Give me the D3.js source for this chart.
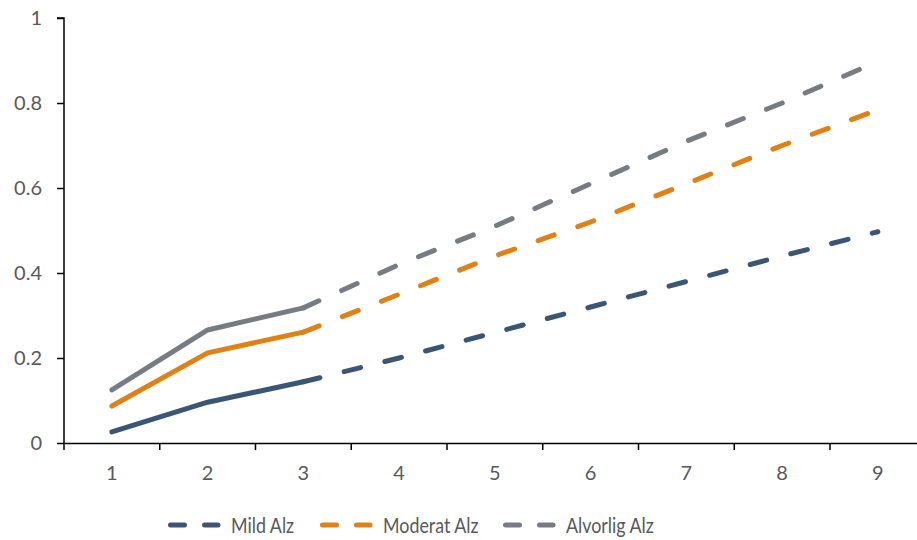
<!DOCTYPE html>
<html><head><meta charset="utf-8">
<script src="https://cdn.jsdelivr.net/npm/d3@7/dist/d3.min.js"></script>
<style>body{margin:0;background:#fff}text{font-family:Lato,"Open Sans",sans-serif}</style>
</head><body><svg id="c" width="917" height="540"></svg>
<script>
const categories = ["1","2","3","4","5","6","7","8","9"];
const seriesNames = ["Mild Alz","Moderat Alz","Alvorlig Alz"];
const mildValues = [0.026,0.096,0.144,0.20,0.26,0.32,0.38,0.44,0.497];
const moderatValues = [0.087,0.212,0.261,0.35,0.44,0.52,0.61,0.70,0.784];
const alvorligValues = [0.125,0.266,0.318,0.42,0.51,0.61,0.71,0.80,0.898];
const yTicks = [0,0.2,0.4,0.6,0.8,1];
const observedCount = 3;
const colors = ["#3B5675","#DF8115","#757C83"];

const svg = d3.select("#c");
const mLeft = 64, mTop = 18, mBottom = 443, step = 95.75;
const x = d3.scaleBand().domain(categories).range([mLeft, mLeft + step*categories.length]).padding(0);
const y = d3.scaleLinear().domain([0,1]).range([mBottom, mTop]);
const cx = c => x(c) + x.bandwidth()/2;

// y axis
const ya = svg.append("g").attr("transform",`translate(${mLeft},0)`)
  .call(d3.axisLeft(y).tickValues(yTicks).tickSize(7).tickPadding(15)
    .tickFormat(d => (d===0||d===1)? String(d) : d.toFixed(1)));
ya.select(".domain").attr("stroke","#000").attr("stroke-width",1.5).attr("d",`M-7,${mTop}H0V${mBottom}`);
ya.selectAll(".tick line").attr("stroke","#000").attr("stroke-width",1.5);
ya.selectAll(".tick text").attr("fill","#595959").style("font-size","20px");

// x axis
const xa = svg.append("g").attr("transform",`translate(0,${mBottom})`)
  .call(d3.axisBottom(x).tickSize(0).tickPadding(23));
xa.select(".domain").attr("stroke","#000").attr("stroke-width",1.5);
xa.selectAll(".tick text").attr("fill","#595959").style("font-size","20px");
xa.selectAll(".btick").data(categories.concat(["end"])).enter().append("line")
  .attr("x1", (d,i) => mLeft + i*x.bandwidth()).attr("x2",(d,i)=> mLeft + i*x.bandwidth())
  .attr("y1",0).attr("y2",7).attr("stroke","#000").attr("stroke-width",1.5);

const allSeries = [mildValues, moderatValues, alvorligValues];
const line = d3.line().x(d => cx(d.c)).y(d => y(d.v));
allSeries.forEach((vals, si) => {
  const pts = vals.map((v,i) => ({c: categories[i], v}));
  svg.append("path").datum(pts.slice(0, observedCount))
    .attr("d", line).attr("fill","none").attr("stroke", colors[si])
    .attr("stroke-width",5).attr("stroke-linecap","round").attr("stroke-linejoin","round");
  svg.append("path").datum(pts.slice(observedCount-1))
    .attr("d", line).attr("fill","none").attr("stroke", colors[si])
    .attr("stroke-width",5).attr("stroke-linecap","round").attr("stroke-dasharray","17,25");
});

// legend
const legendX = [168, 320, 503];
const lg = svg.append("g");
seriesNames.forEach((n, i) => {
  const g = lg.append("g").attr("transform",`translate(${legendX[i]},525)`);
  g.append("line").attr("x1",2.5).attr("x2",50).attr("y1",0).attr("y2",0)
    .attr("stroke",colors[i]).attr("stroke-width",5).attr("stroke-linecap","round")
    .attr("stroke-dasharray","14,20");
  g.append("text").attr("transform","translate(63,0) scale(0.85,1)").attr("dy","0.36em").text(n)
    .attr("fill","#595959").style("font-size","21px");
});
</script></body></html>
